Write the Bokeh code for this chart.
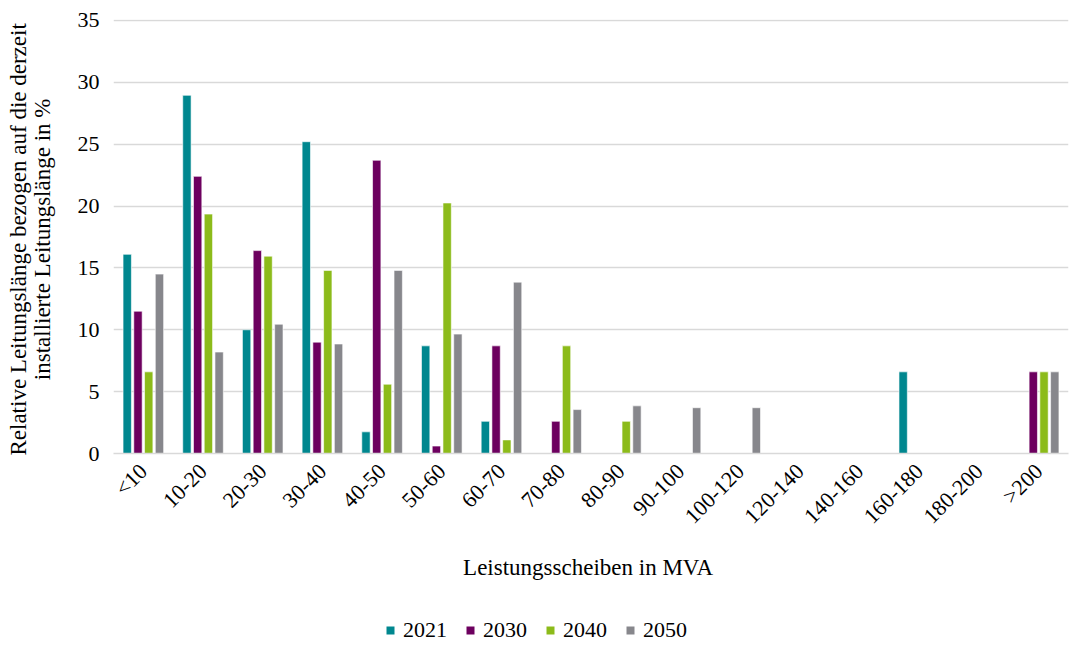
import math
from bokeh.plotting import figure
from bokeh.layouts import column
from bokeh.models import FactorRange, Legend, LegendItem, SingleIntervalTicker, ColumnDataSource, Range1d
from bokeh.transform import dodge
from bokeh.embed import file_html
from bokeh.resources import INLINE

categories = ["<10", "10-20", "20-30", "30-40", "40-50", "50-60", "60-70", "70-80",
              "80-90", "90-100", "100-120", "120-140", "140-160", "160-180", "180-200", ">200"]
v2021 = [16.1, 28.95, 10.0, 25.2, 1.75, 8.7, 2.6, 0, 0, 0, 0, 0, 0, 6.6, 0, 0]
v2030 = [11.5, 22.4, 16.4, 9.0, 23.7, 0.6, 8.7, 2.6, 0, 0, 0, 0, 0, 0, 0, 6.6]
v2040 = [6.6, 19.35, 15.95, 14.8, 5.6, 20.25, 1.1, 8.7, 2.6, 0, 0, 0, 0, 0, 0, 6.6]
v2050 = [14.5, 8.2, 10.45, 8.85, 14.8, 9.65, 13.85, 3.55, 3.85, 3.7, 3.7, 0, 0, 0, 0, 6.6]
years = ["2021", "2030", "2040", "2050"]
colors = ["#00878F", "#6D005F", "#8CBB1A", "#87878C"]

FONT = "Liberation Serif"
FS = "22px"
FS_TITLE = "23px"

src = ColumnDataSource(dict(cat=categories, y2021=v2021, y2030=v2030, y2040=v2040, y2050=v2050))

p = figure(x_range=FactorRange(*categories, range_padding=0), y_range=Range1d(0, 35.08),
           frame_width=955, frame_height=434, output_backend="svg", toolbar_location=None,
           min_border_left=113, min_border_right=3, min_border_top=19, min_border_bottom=160)
p.outline_line_color = None
p.background_fill_color = "white"
p.border_fill_color = "white"

offsets = [-0.27, -0.09, 0.09, 0.27]
for yr, col, off in zip(years, colors, offsets):
    p.vbar(x=dodge("cat", off, range=p.x_range), top="y" + yr, width=0.14, source=src,
           fill_color=col, line_color="white", line_width=0.6)

p.yaxis.ticker = SingleIntervalTicker(interval=5)
p.yaxis.axis_line_color = None
p.yaxis.major_tick_line_color = None
p.yaxis.minor_tick_line_color = None
p.yaxis.major_label_text_font = FONT
p.yaxis.major_label_text_font_size = FS
p.yaxis.major_label_text_color = "black"
p.yaxis.major_label_standoff = 8
p.yaxis.axis_label = "Relative Leitungslänge  bezogen auf die derzeit\ninstallierte Leitungslänge  in %"
p.yaxis.axis_label_text_font = FONT
p.yaxis.axis_label_text_font_size = FS_TITLE
p.yaxis.axis_label_text_font_style = "normal"
p.yaxis.axis_label_text_color = "black"
p.yaxis.axis_label_text_align = "center"
p.yaxis.axis_label_text_line_height = 0.95
p.yaxis.axis_label_standoff = 20

p.xaxis.axis_line_color = "#D9D9D9"
p.xaxis.axis_line_width = 1.5
p.xaxis.major_tick_line_color = None
p.xaxis.minor_tick_line_color = None
p.xaxis.major_label_orientation = math.pi / 4
p.xaxis.major_label_text_font = FONT
p.xaxis.major_label_text_font_size = FS
p.xaxis.major_label_text_color = "black"
p.xaxis.major_label_standoff = 8
p.xaxis.axis_label = "Leistungsscheiben  in MVA"
p.xaxis.axis_label_text_font = FONT
p.xaxis.axis_label_text_font_size = FS_TITLE
p.xaxis.axis_label_text_font_style = "normal"
p.xaxis.axis_label_text_color = "black"
p.xaxis.axis_label_standoff = 15

p.xgrid.grid_line_color = None
p.ygrid.grid_line_color = "#D9D9D9"
p.ygrid.grid_line_width = 1.5

# legend strip below the chart
p2 = figure(x_range=p.x_range, y_range=Range1d(100, 101), width=1071, height=30,
            output_backend="svg", toolbar_location=None,
            x_axis_location=None, y_axis_location=None,
            min_border_left=0, min_border_right=0, min_border_top=0, min_border_bottom=0)
p2.outline_line_color = None
p2.xgrid.grid_line_color = None
p2.ygrid.grid_line_color = None
items = []
for yr, col in zip(years, colors):
    r = p2.rect(x="cat", y="y" + yr, width=0.1, height=0.1, source=src,
                fill_color=col, line_color=None)
    items.append(LegendItem(label=yr, renderers=[r]))

legend = Legend(items=items, orientation="horizontal", location=(272, 0),
                label_text_font=FONT, label_text_font_size=FS, label_text_color="black",
                glyph_width=10, glyph_height=10, spacing=18, label_standoff=8,
                border_line_color=None, background_fill_alpha=0, margin=0, padding=0)
p2.add_layout(legend, "center")

layout = column(p, p2, spacing=0)
open("out.html", "w").write(file_html(layout, INLINE))
